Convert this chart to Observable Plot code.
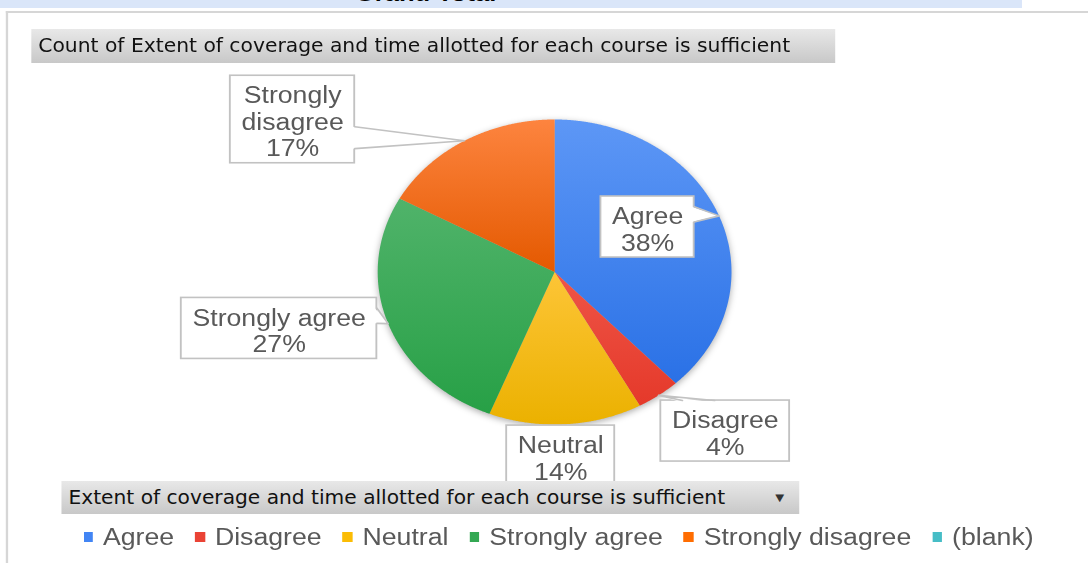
<!DOCTYPE html>
<html>
<head>
<meta charset="utf-8">
<script src="https://cdn.jsdelivr.net/npm/d3@7"></script>
<script src="https://cdn.jsdelivr.net/npm/@observablehq/plot@0.6"></script>
<style>
html, body { margin: 0; padding: 0; background: #fff; overflow: hidden; }
#wrap { position: relative; width: 938px; height: 563px; transform: scaleX(1.16); transform-origin: 0 0; overflow: hidden; font-family: "Liberation Sans", Arial, sans-serif; }
#topbar { position: absolute; left: 0; top: 0; width: 881px; height: 7.5px; background: #dae6f9; overflow: hidden; }
#topbar span { position: absolute; left: 306px; top: -17.3px; font: bold 22px/22px "Liberation Sans", Arial, sans-serif; color: #000; white-space: nowrap; }
#frame { position: absolute; left: 5.2px; top: 10.5px; width: 1000px; height: 700px; border-left: 2px solid #d6d6d6; border-top: 2px solid #d6d6d6; }
#plot { position: absolute; left: 0; top: 0; }
.btn { position: absolute; background: linear-gradient(#e8e8e8, #c8c8c8); font-family: "DejaVu Sans", Verdana, sans-serif; font-size: 19.5px; color: #111; white-space: nowrap; }
.fit { display: inline-block; transform-origin: 0 50%; }
#title { left: 26.7px; top: 29px; width: 693px; height: 34px; line-height: 34px; }
#title .fit { margin-left: 6px; }
#field { left: 53.4px; top: 481px; width: 636px; height: 33px; line-height: 33px; }
#field .fit { margin-left: 6px; }
#field .arrow { position: absolute; left: 615px; top: 0; font-size: 10px; color: #333; }
#legend { position: absolute; left: 71.5px; top: 524px; height: 26px; display: flex; align-items: center; font-size: 23px; line-height: 26px; color: #595959; white-space: nowrap; }
#legend .item { display: flex; align-items: center; margin-right: 18px; }
#legend .sw { width: 8.6px; height: 10px; margin-right: 8.6px; }
</style>
</head>
<body>
<div id="wrap">
  <div id="topbar"><span>Grand Total</span></div>
  <div id="frame"></div>
  <div id="plot"></div>
  <div id="title" class="btn"><span class="fit" data-w="648">Count of Extent of coverage and time allotted for each course is sufficient</span></div>
  <div id="field" class="btn"><span class="fit" data-w="566">Extent of coverage and time allotted for each course is sufficient</span><span class="arrow">▼</span></div>
  <div id="legend"></div>
</div>
<script>
// ---- data ----
const categories = ["Agree", "Disagree", "Neutral", "Strongly agree", "Strongly disagree"];
const percents = [38, 4, 14, 27, 17];
const legendCategories = ["Agree", "Disagree", "Neutral", "Strongly agree", "Strongly disagree", "(blank)"];

// ---- styles ----
const swatchColors = ["#4285f4", "#ea4335", "#fbbc04", "#34a853", "#ff6d01", "#46bdc6"];
const gradTop = ["#5d97f6", "#ee5547", "#fdc537", "#50b36a", "#fd843f"];
const gradBottom = ["#2a71e6", "#e5392a", "#ebb100", "#27a046", "#e45900"];

// ---- label layout (box centres, in pie-radius units, y up) ----
const labelCenters = [[0.526, 0.295], [0.965, -1.043], [0.035, -1.207], [-1.557, -0.370], [-1.481, 1.0]];
const labelWrap = [false, false, false, false, true];

// geometry (inner px)
const R = 152.5, CX = 477.6, CY = 271.5;
const FONT = 23, LINE = 26.5, PADX = 9.5, PADY = 4;

// pie slices
const arcs = d3.pie().sort(null).value(d => d)(percents);
const slices = arcs.map((a, i) => {
  const cat = categories[i];
  const pts = [{cat, x: 0, y: 0}];
  const n = Math.max(2, Math.ceil((a.endAngle - a.startAngle) / 0.005));
  for (let k = 0; k <= n; k++) {
    const t = a.startAngle + (a.endAngle - a.startAngle) * k / n;
    pts.push({cat, x: Math.sin(t), y: Math.cos(t)});
  }
  pts.push({cat, x: 0, y: 0});
  return pts;
});

// labels
const ctx = document.createElement("canvas").getContext("2d");
ctx.font = `${FONT}px "Liberation Sans", Arial, sans-serif`;
const boxes = [], wedgeFill = [], wedgeEdges = [];
arcs.forEach((a, i) => {
  const cat = categories[i];
  const lines = (labelWrap[i] ? cat.split(" ") : [cat]).concat([percents[i] + "%"]);
  const tw = Math.max(...lines.map(l => ctx.measureText(l).width));
  const w = (tw + 2 * PADX) / R, h = (lines.length * LINE + 2 * PADY) / R;
  const [cx, cy] = labelCenters[i];
  boxes.push({cat, label: lines.join("\n"), cx, cy, x1: cx - w / 2, x2: cx + w / 2, y1: cy - h / 2, y2: cy + h / 2});
  const mid = (a.startAngle + a.endAngle) / 2;
  const tip = {x: Math.sin(mid), y: Math.cos(mid)};
  const dx = tip.x - cx, dy = tip.y - cy;
  if (Math.abs(dx) <= w / 2 + 4 / R && Math.abs(dy) <= h / 2 + 4 / R) return;
  let b1, b2, in1, in2;
  const e = 2 / R;
  if (Math.abs(dx) / (w / 2) > Math.abs(dy) / (h / 2)) {
    const ex = dx > 0 ? cx + w / 2 : cx - w / 2;
    const top = cy + h / 2;
    const f = dy > 0 ? [2 / 12, 5 / 12] : [7 / 12, 10 / 12];
    b1 = {x: ex, y: top - f[0] * h}; b2 = {x: ex, y: top - f[1] * h};
    const s = dx > 0 ? -e : e;
    in1 = {x: ex + s, y: b1.y}; in2 = {x: ex + s, y: b2.y};
  } else {
    const ey = dy > 0 ? cy + h / 2 : cy - h / 2;
    const left = cx - w / 2;
    const f = dx < 0 ? [2 / 12, 5 / 12] : [7 / 12, 10 / 12];
    b1 = {x: left + f[0] * w, y: ey}; b2 = {x: left + f[1] * w, y: ey};
    const s = dy > 0 ? -e : e;
    in1 = {x: b1.x, y: ey + s}; in2 = {x: b2.x, y: ey + s};
  }
  [in1, tip, in2].forEach(p => wedgeFill.push({cat, ...p}));
  [b1, tip, b2].forEach(p => wedgeEdges.push({cat, ...p}));
});

const plot = Plot.plot({
  width: 938,
  height: 563,
  margin: 0,
  x: {domain: [-1, 1], range: [CX - R, CX + R], axis: null},
  y: {domain: [-1, 1], range: [CY + R, CY - R], axis: null},
  style: {background: "transparent", overflow: "visible"},
  marks: [
    ...slices.map((pts, i) => Plot.line(pts, {x: "x", y: "y", fill: swatchColors[i], stroke: "none"})),
    Plot.rect(boxes, {x1: "x1", x2: "x2", y1: "y1", y2: "y2", fill: "white", stroke: "#c2c2c2", strokeWidth: 1.6}),
    Plot.line(wedgeFill, {x: "x", y: "y", z: "cat", fill: "white", stroke: "none"}),
    Plot.line(wedgeEdges, {x: "x", y: "y", z: "cat", stroke: "#c2c2c2", strokeWidth: 1.6, fill: "none"}),
    Plot.text(boxes, {x: "cx", y: "cy", dy: 2, text: "label", fontSize: FONT, lineHeight: LINE / FONT, fill: "#595959", fontFamily: "Liberation Sans, Arial, sans-serif"})
  ]
});

// gradient definitions inside the chart svg, applied to the slices (first five line groups)
const svgEl = plot.tagName.toLowerCase() === "svg" ? plot : plot.querySelector("svg");
d3.select(svgEl).insert("defs", ":first-child").selectAll("linearGradient")
  .data(categories)
  .join("linearGradient")
  .attr("id", (d, i) => `grad${i}`)
  .attr("x1", 0).attr("y1", 0).attr("x2", 0).attr("y2", 1)
  .each(function (d, i) {
    d3.select(this).append("stop").attr("offset", 0).attr("stop-color", gradTop[i]);
    d3.select(this).append("stop").attr("offset", 1).attr("stop-color", gradBottom[i]);
  });
const lineGroups = Array.from(svgEl.querySelectorAll('g[aria-label="line"]')).slice(0, categories.length);
if (lineGroups.length) {
  const wrapG = document.createElementNS("http://www.w3.org/2000/svg", "g");
  wrapG.style.filter = "drop-shadow(0px 2px 3px rgba(0,0,0,0.32))";
  lineGroups[0].parentNode.insertBefore(wrapG, lineGroups[0]);
  lineGroups.forEach((g, i) => {
    g.setAttribute("fill", `url(#grad${i})`);
    wrapG.appendChild(g);
  });
}
document.getElementById("plot").appendChild(plot);

// legend
const legend = document.getElementById("legend");
legendCategories.forEach((c, i) => {
  const item = document.createElement("div");
  item.className = "item";
  item.innerHTML = `<span class="sw" style="background:${swatchColors[i]}"></span><span>${c}</span>`;
  legend.appendChild(item);
});

// fit the narrow button texts to their widths
document.querySelectorAll(".fit").forEach(el => {
  const target = +el.dataset.w;
  el.style.transform = `scaleX(${target / el.offsetWidth})`;
});
</script>
</body>
</html>
